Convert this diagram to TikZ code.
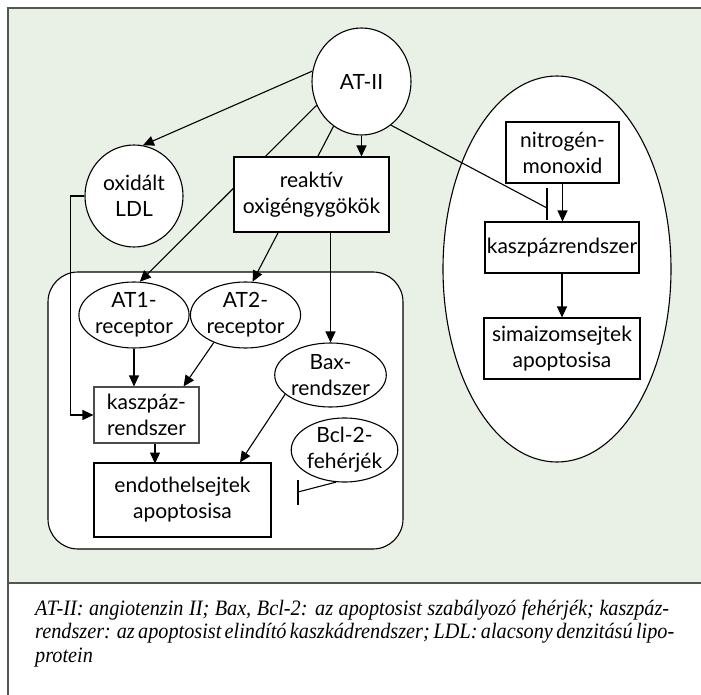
\documentclass[tikz,border=0pt]{standalone}
\usepackage{fontspec}
\setmainfont{Lato}
\newfontfamily\capfont[FakeStretch=0.92]{Liberation Serif}
\usetikzlibrary{shapes.geometric,arrows.meta,calc}
\pgfdeclarelayer{bg}
\pgfdeclarelayer{edges}
\pgfsetlayers{bg,edges,main}
\definecolor{panelgreen}{RGB}{233,240,230}
\definecolor{framegray}{RGB}{85,85,85}

\begin{document}
\begin{tikzpicture}[x=1pt,y=-1pt,
    every node/.style={font=\fontsize{21}{26}\selectfont, align=center, inner sep=0pt},
    oval/.style={draw, ellipse, fill=white, line width=1.1pt},
    box/.style={draw, rectangle, fill=white, line width=1.1pt},
    arr/.style={-{Triangle[length=11pt,width=10pt]}, line width=1.1pt},
    ln/.style={line width=1.1pt}]
\useasboundingbox (0,0) rectangle (701,695);

% panel and frame
\begin{pgfonlayer}{bg}
\fill[panelgreen] (8,8) rectangle (701,583);
\draw[framegray, line width=1.6pt] (701,8) -- (8,8) -- (8,695);
\draw[framegray, line width=1.6pt] (8,583) -- (701,583);
\draw[ln, fill=white, rounded corners=30pt] (48,272) rectangle (403,549);
\draw[ln, fill=white] (557,269) ellipse (114 and 193);
\end{pgfonlayer}

% nodes
\node[oval, minimum width=99pt, minimum height=107pt] (atii) at (361.5,81.5) {AT-II};
\node[box, minimum width=155pt, minimum height=75pt] (reakt) at (311.5,194.5) {reaktív\\oxigéngygökök};
\node[oval, minimum width=98pt, minimum height=102pt] (oxldl) at (134,196) {oxidált\\LDL};

\node[oval, minimum width=92pt, minimum height=66pt] (at1) at (134,315) {AT1-\\receptor};
\node[oval, minimum width=105pt, minimum height=66pt] (at2r) at (245.5,315) {AT2-\\receptor};
\node[oval, minimum width=109pt, minimum height=64pt] (bax) at (330.5,375) {Bax-\\rendszer};
\node[box, draw=black!70, minimum width=105pt, minimum height=56pt] (kasz1) at (146.5,415) {kaszpáz-\\rendszer};
\node[oval, minimum width=93pt, minimum height=60pt] (bcl) at (344.5,450) {Bcl-2-\\fehérjék};
\node[box, minimum width=177pt, minimum height=74pt] (endo) at (182.5,500) {endothelsejtek\\apoptosisa};

\node[box, minimum width=113pt, minimum height=61pt] (no) at (562.5,152.5) {nitrogén-\\monoxid};
\node[box, minimum width=154pt, minimum height=51pt] (kasz2) at (562,247.5) {kaszpázrendszer};
\node[box, minimum width=156pt, minimum height=61pt] (sima) at (562,348.5) {simaizomsejtek\\apoptosisa};

\coordinate (tee1) at (547,208);
\coordinate (tee2) at (298,492);

% connectors
\begin{pgfonlayer}{edges}
\draw[arr] (atii.168) -- (oxldl.80);
\draw[arr] (atii.208) -- (at1.80);
\draw[arr] (atii.238) -- (at2r.78);
\draw[arr] (atii.south) -- (atii.south |- reakt.north);
\draw[arr] (reakt.south -| bax.north) -- (bax.north);
\draw[ln] (atii.304) -- (tee1);
\draw[ln] ($(tee1)+(0,-20)$) -- ($(tee1)+(0,12)$);

\draw[arr] (no.south) -- (no.south |- kasz2.north);
\draw[arr] (kasz2.south) -- (kasz2.south |- sima.north);

\draw[arr] (oxldl.west) -- ++(-14,0) |- (kasz1.west);
\draw[arr] (at1.south) -- (at1.south |- kasz1.north);
\draw[arr] (at2r.221) -- ($(kasz1.north east)+(-16,0)$);
\draw[arr] ($(kasz1.south)+(8.5,0)$) -- ($(kasz1.south)+(8.5,20)$);
\draw[arr] (bax.203) -- ($(endo.north)+(57.5,0)$);
\draw[ln] (bcl.255) -- (tee2);
\draw[ln] ($(tee2)+(0,-12)$) -- ($(tee2)+(0,13)$);
\end{pgfonlayer}

% caption
\node[anchor=base west, align=left, font=\capfont\itshape\fontsize{22}{23.5}\selectfont] (capt) at (35,662)
  {\makebox[634pt][s]{AT-II: angiotenzin II; Bax, Bcl-2: az apoptosist szabályozó fehérjék; kaszpáz-}\\
   \makebox[634pt][s]{rendszer: az apoptosist elindító kaszkádrendszer; LDL: alacsony denzitású lipo-}\\
   protein};
\end{tikzpicture}
\end{document}
